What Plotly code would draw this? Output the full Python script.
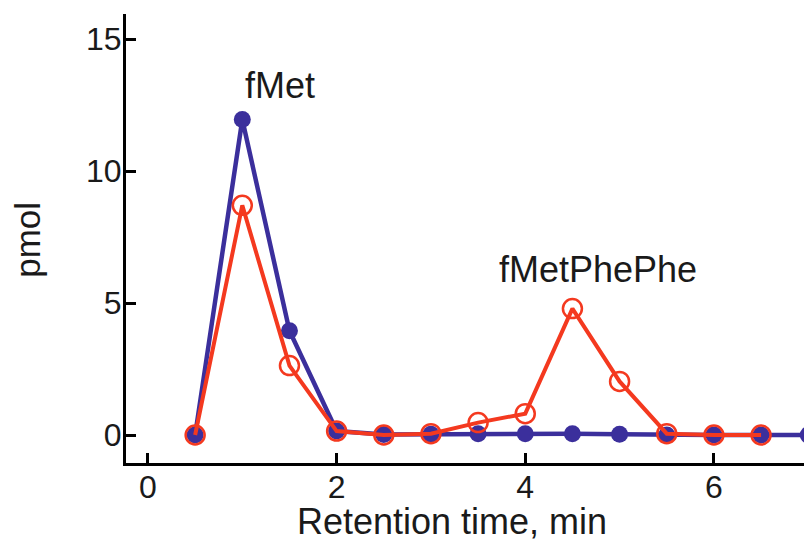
import plotly.graph_objects as go

# Data
time_blue = [0.5, 1.0, 1.5, 2.0, 2.5, 3.0, 3.5, 4.0, 4.5, 5.0, 5.5, 6.0, 6.5, 7.0]
pmol_blue = [0.0, 11.95, 3.95, 0.15, 0.02, 0.03, 0.05, 0.05, 0.05, 0.03, 0.0, 0.0, 0.0, 0.0]

time_red = [0.5, 1.0, 1.5, 2.0, 2.5, 3.0, 3.5, 4.0, 4.5, 5.0, 5.5, 6.0, 6.5]
pmol_red = [0.0, 8.7, 2.63, 0.15, 0.0, 0.05, 0.47, 0.81, 4.79, 2.03, 0.05, 0.0, 0.0]

x_ticks = [0, 2, 4, 6]
y_ticks = [0, 5, 10, 15]

peak_labels = ["fMet", "fMetPhePhe"]
peak_label_x = [1.40, 4.77]
peak_label_y = [13.24, 6.27]

BLUE = "#3b2f9c"
RED = "#f4391f"
INK = "#1a1a1a"
FONT = "Liberation Sans, Arial, sans-serif"

fig = go.Figure()
fig.add_trace(go.Scatter(
    x=time_blue, y=pmol_blue, mode="lines+markers",
    line=dict(color=BLUE, width=4.5),
    marker=dict(symbol="circle", size=17, color=BLUE),
    showlegend=False,
))
fig.add_trace(go.Scatter(
    x=time_red, y=pmol_red, mode="lines+markers",
    line=dict(color=RED, width=4),
    marker=dict(symbol="circle-open", size=19, color=RED, line=dict(color=RED, width=2.5)),
    showlegend=False,
))

for txt, lx, ly in zip(peak_labels, peak_label_x, peak_label_y):
    fig.add_annotation(x=lx, y=ly, xref="x", yref="y", text=txt, showarrow=False,
                       xanchor="center", yanchor="middle",
                       font=dict(family=FONT, size=36, color=INK))

fig.add_annotation(x=0.475, y=-0.131, xref="paper", yref="paper",
                   text="Retention time, min", showarrow=False,
                   xanchor="center", yanchor="middle",
                   font=dict(family=FONT, size=36, color=INK))
fig.add_annotation(x=-0.143, y=0.497, xref="paper", yref="paper",
                   text="pmol", showarrow=False, textangle=-90,
                   xanchor="center", yanchor="middle",
                   font=dict(family=FONT, size=35, color=INK))

# The page body has an 8px default margin, so the figure is sized to end at the window edge.
fig.update_layout(
    width=804, height=536,
    margin=dict(l=118, r=0, t=6, b=81),
    paper_bgcolor="white", plot_bgcolor="white",
    font=dict(family=FONT, color=INK),
    xaxis=dict(
        range=[-0.233, 7.04], tickvals=x_ticks, ticktext=[str(v) for v in x_ticks],
        showline=True, linecolor="black", linewidth=3,
        ticks="inside", ticklen=10, tickwidth=3, tickcolor="black",
        showgrid=False, zeroline=False,
        tickfont=dict(family=FONT, size=32, color=INK),
        ticklabelstandoff=-6,
    ),
    yaxis=dict(
        range=[-1.06, 15.95], tickvals=y_ticks, ticktext=[str(v) for v in y_ticks],
        showline=True, linecolor="black", linewidth=3,
        ticks="inside", ticklen=10, tickwidth=3, tickcolor="black",
        showgrid=False, zeroline=False,
        tickfont=dict(family=FONT, size=32, color=INK),
        ticklabelstandoff=-5,
    ),
)

fig.write_html("out.html")
